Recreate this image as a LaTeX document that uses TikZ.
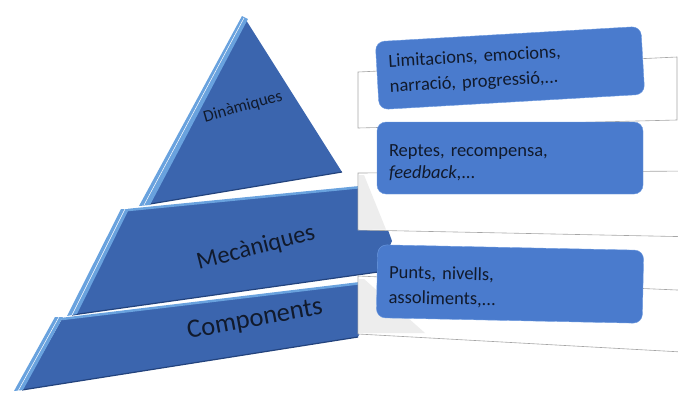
\documentclass[tikz,border=0pt]{standalone}
\usepackage{fontspec}
\setmainfont{Carlito}
\definecolor{pyr}{HTML}{3B65AE}
\definecolor{pyrlight}{HTML}{69A2DE}
\definecolor{pyrdark}{HTML}{23437D}
\definecolor{boxblue}{HTML}{4A7BCD}
\definecolor{boxline}{HTML}{6E9BE0}
\definecolor{ink}{HTML}{111A2C}
\definecolor{rule}{HTML}{A6A6A6}
\begin{document}
\begin{tikzpicture}[x=1pt, y=-1pt,
    box/.style = {draw=boxline, fill=boxblue, rounded corners=9pt, minimum width=266pt, text width=242pt, align=left, text=ink, font=\fontsize{18.5}{25}\selectfont},
    lvl/.style = {text=ink, inner sep=0pt},
    back/.style = {draw=rule, fill=white, line width=0.6pt},
    shade/.style = {fill=gray!14},
    edge/.style = {pyrdark, line width=1.2pt},
    rim/.style = {white, line width=0.5pt}]
    \useasboundingbox (0,0) rectangle (678,392);
    \clip (0,0) rectangle (678,392);

    \fill[pyr] (246,20) -- (342,172) -- (150,204) -- cycle;
    \draw[edge] (342,172) -- (150,204);
    \fill[pyrlight] (242,16) -- (248,19) -- (150,205) -- (139,206) -- cycle;
    \draw[rim] (244,18) -- (144,205);

    \fill[pyr] (128,210) -- (372,186) -- (392,241) -- (378,272) -- (72,315) -- cycle;
    \draw[pyrlight, line width=2.5pt] (128,210) -- (372,186);
    \draw[edge] (378,272) -- (72,315);
    \fill[pyrlight] (121,209) -- (129,209) -- (77,314) -- (67,316) -- cycle;
    \draw[rim] (125,209) -- (72,315);

    \fill[pyr] (62,319) -- (370,282) -- (375,300) -- (358,337) -- (22,390) -- cycle;
    \draw[pyrlight, line width=2.5pt] (62,319) -- (370,282);
    \draw[edge] (358,337) -- (22,390);
    \fill[pyrlight] (55,317) -- (63,317) -- (23,390) -- (14,391) -- cycle;
    \draw[rim] (59,317) -- (18,391);

    \node[lvl, rotate=15.7, font=\fontsize{16.8}{20}\selectfont] (4) at (243,107) {Dinàmiques};
    \node[lvl, rotate=14.3, font=\fontsize{24.5}{28}\selectfont] (5) at (256,248) {Mecàniques};
    \node[lvl, rotate=10.3, font=\fontsize{26.5}{30}\selectfont] (6) at (255,320) {Components};

    \filldraw[back] (358,72) -- (677,57) -- (677,120) -- (358,128) -- cycle;
    \filldraw[back] (358,173) -- (700,171) -- (700,237) -- (358,230) -- cycle;
    \fill[shade] (359,175) -- (364,175) -- (386,229.5) -- (359,229.5) -- cycle;
    \filldraw[back] (358,276) -- (700,291) -- (700,353) -- (358,334) -- cycle;
    \fill[shade] (359,279) -- (364,279) -- (425,333) -- (359,333) -- cycle;

    \node[box, rotate=3.3, minimum height=68pt] (1) at (510,68) {Limitacions, emocions,\\narració, progressió,...};
    \node[box, minimum height=72pt, font=\fontsize{18.5}{21.5}\selectfont, text height=21pt] (2) at (510,158) {Reptes, recompensa,\\\textit{feedback},...};
    \node[box, rotate=-1.2, minimum height=73pt, text height=21pt] (3) at (510,284) {Punts, nivells,\\assoliments,...};
\end{tikzpicture}
\end{document}
